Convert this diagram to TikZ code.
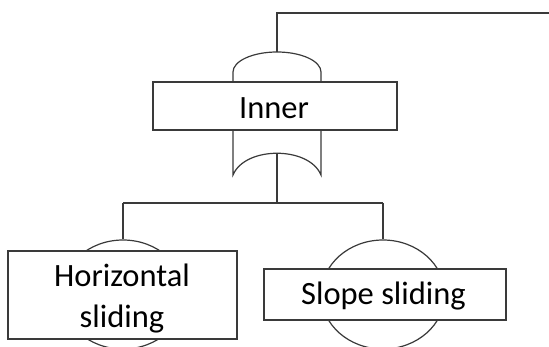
\documentclass[tikz,border=0pt]{standalone}
\usepackage{fontspec}
\setmainfont{Carlito}
\usetikzlibrary{shapes.geometric}
\definecolor{ln}{HTML}{3A3A3A}
\begin{document}
\begin{tikzpicture}[x=1pt,y=-1pt,line width=1.2pt,
  every path/.style={draw=ln},
  ev/.style={ellipse,draw=ln,fill=white,minimum width=123.4pt,minimum height=109pt,inner sep=0pt},
  evbox/.style={draw=ln,fill=white,inner sep=0pt},
  evtext/.style={inner sep=0pt,anchor=base,align=center,text=black,
    font=\fontsize{32.5}{41}\selectfont}]
\useasboundingbox[draw=none] (0,0) rectangle (549,347);
% gate shapes
\coordinate (topR) at (549,13);
\coordinate (topL) at (277,13);
\coordinate (domeTop) at (277,52);
\coordinate (gbot) at (277,153);
\coordinate (j) at (277,203);
\coordinate (jl) at (123,203);
\coordinate (jr) at (383,203);
\draw (233,82) -- (233,72) .. controls (233,61) and (252.7,52) .. (domeTop)
      .. controls (301.3,52) and (321,61) .. (321,72) -- (321,82);
\draw (233,130) -- (233,175) .. controls (245,146) and (309,146) .. (321,175) -- (321,130);
\node[evbox,minimum width=244pt,minimum height=48pt] (inner) at (275,106) {};
\node[evtext] (innerT) at (274,119) {Inner};
% ellipses and event boxes
\node[ev] (lh) at (123,294.5) {};
\node[ev] (rh) at (383,294.5) {};
\node[evbox,minimum width=229pt,minimum height=88pt] (hs) at (122.5,295) {};
\node[evbox,minimum width=242pt,minimum height=51pt] (ss) at (385,294.5) {};
\node[evtext] (hsT) at (122,328) {Horizontal\\sliding};
\node[evtext] (ssT) at (383.5,305) {Slope sliding};
% connectors
\draw (topR) -- (topL) -- (domeTop);
\draw (gbot) -- (j);
\draw (jl) -- (jr);
\draw (jl) -- (lh.north);
\draw (jr) -- (rh.north);
\end{tikzpicture}
\end{document}
